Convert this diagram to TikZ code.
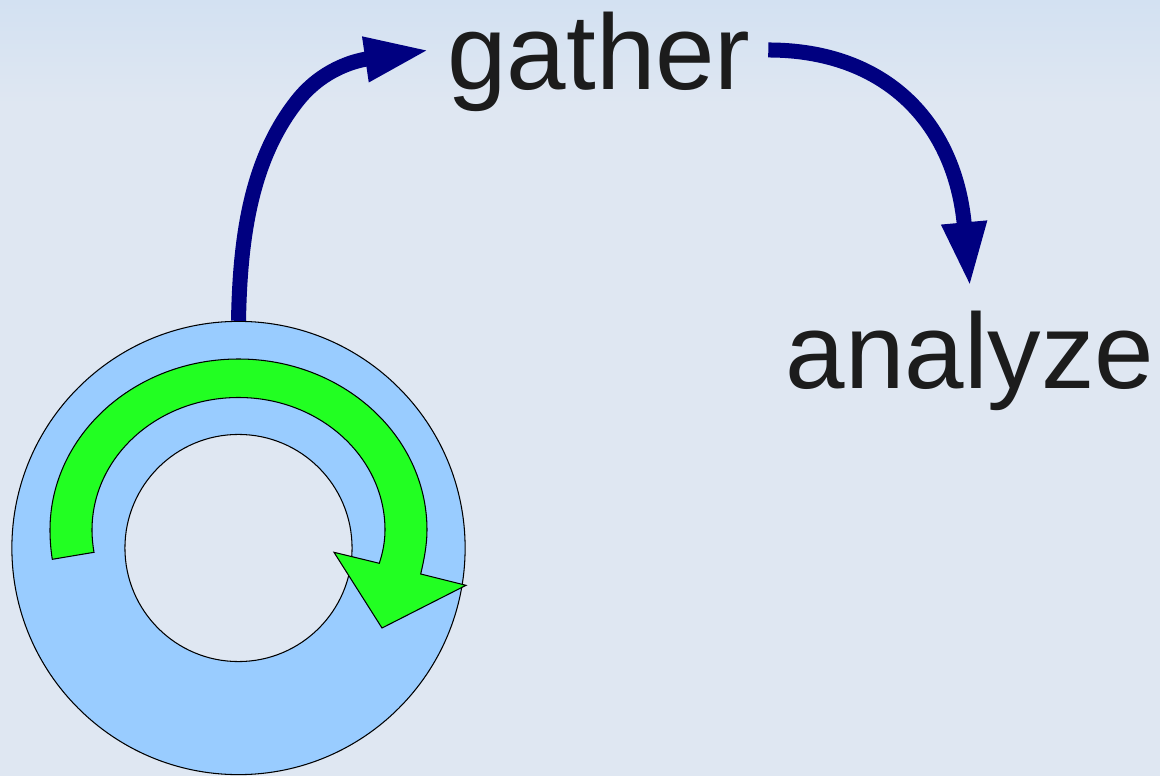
\documentclass[tikz,border=0pt]{standalone}
\usepackage{fontspec}
\setmainfont{Liberation Sans}
\usepackage{tikz}
\usetikzlibrary{arrows.meta}
\definecolor{bgmain}{HTML}{DFE7F2}
\definecolor{bgtop}{HTML}{D3E1F2}
\definecolor{ringblue}{HTML}{99CCFF}
\definecolor{turngreen}{HTML}{22FF22}
\definecolor{flowblue}{HTML}{000080}
\definecolor{wordgray}{HTML}{1C1C1C}
\tikzset{
  word/.style={text=wordgray,font=\fontsize{30.4}{36}\selectfont,text depth=0pt},
  flow/.style={draw=flowblue,line width=0.15cm,-{Triangle[length=0.65cm,width=0.415cm]}},
  ringline/.style={draw=black,line width=0.3pt}
}

\begin{document}
\begin{tikzpicture}[x=0.01cm,y=-0.01cm]
        \useasboundingbox (0,0) rectangle (1160,776);
        \fill[bgmain] (0,0) rectangle (1160,776);
        \shade[top color=bgtop,bottom color=bgmain] (0,0) rectangle (1160,105); % lighter band at the top

        \node[ringline,circle,fill=ringblue,inner sep=0pt,minimum size=4.53cm] (ring) at (238.5,548) {};
        \node[ringline,circle,fill=bgmain,inner sep=0pt,minimum size=2.27cm] (hole) at (238.5,548) {};

        \node[word,anchor=base,inner xsep=0.17cm,text height=0.8cm] (gather) at (599,90) {gather};
        \node[word,anchor=base,inner xsep=0pt,inner ysep=0.34cm,text height=0.67cm] (analyze) at (970,389) {analyze};

        % turning arrow inside the ring
        \filldraw[ringline,fill=turngreen] (52.3,559.3)
            .. controls (50.8,550) and (50,540) .. (50,530)
            .. controls (50,435.6) and (134.4,359) .. (238.5,359)
            .. controls (342.6,359) and (427,435.6) .. (427,530)
            .. controls (427,545) and (424,560) .. (420.7,574)
            -- (466,585.3) -- (382,628) -- (334,552.3) -- (379.3,563.3)
            .. controls (383,552) and (385,541) .. (385,530)
            .. controls (385,456.8) and (319.4,397.5) .. (238.5,397.5)
            .. controls (157.6,397.5) and (92,456.8) .. (92,530)
            .. controls (92,538) and (92.8,545) .. (94,552.3)
            -- cycle;

        \draw[flow] (ring.north) .. controls (240,240) and (250,160) .. (298,100)
            .. controls (330,60) and (375,58) .. (gather.west);
        \draw[flow] (gather.east) .. controls (885,50) and (955,122) .. (analyze.north);
\end{tikzpicture}
\end{document}
